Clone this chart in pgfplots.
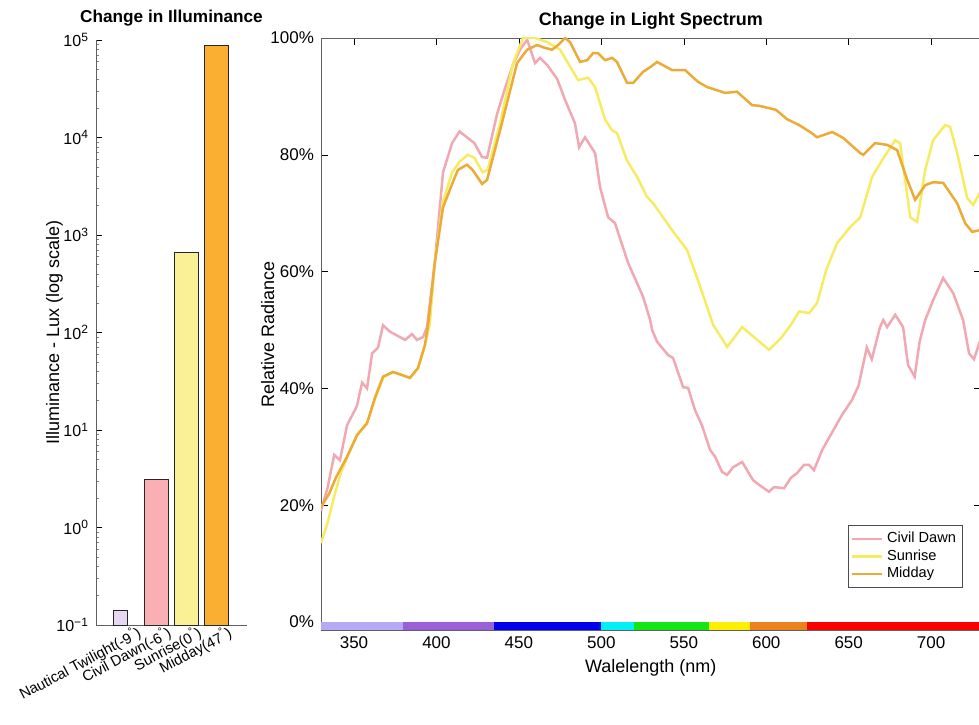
\documentclass[border=0pt]{standalone}
\usepackage{pgfplots}
\pgfplotsset{compat=1.18}
\usepackage{fontspec}
\setmainfont{Liberation Sans}

\definecolor{cLav}{RGB}{181,170,245}
\definecolor{cPur}{RGB}{155,95,215}
\definecolor{cBlu}{RGB}{0,0,235}
\definecolor{cCya}{RGB}{0,240,245}
\definecolor{cGre}{RGB}{20,230,20}
\definecolor{cYel}{RGB}{250,240,0}
\definecolor{cOra}{RGB}{235,130,30}
\definecolor{cRed}{RGB}{250,0,0}
\definecolor{lCivil}{RGB}{240,168,178}
\definecolor{lSun}{RGB}{246,236,100}
\definecolor{lMid}{RGB}{236,170,55}
\definecolor{bNaut}{RGB}{230,215,242}
\definecolor{bCivil}{RGB}{250,175,180}
\definecolor{bSun}{RGB}{250,240,150}
\definecolor{bMid}{RGB}{250,175,50}

\begin{document}
\begin{tikzpicture}
\useasboundingbox (0pt,0pt) rectangle (489.5pt,362pt);

% ---------------- Left: illuminance bars ----------------
\begin{axis}[
  at={(48pt,49.5pt)}, anchor=south west, scale only axis,
  width=75.5pt, height=292.5pt,
  ymode=log, log origin=infty,
  ymin=0.1, ymax=1e5, xmin=0, xmax=5,
  axis x line*=bottom, axis y line*=left,
  axis line style={gray!75!black},
  xtick={1,2,3,4},
  xticklabels={Nautical Twilight(-9\textsuperscript{°}),Civil Dawn(-6\textsuperscript{°}),Sunrise(0\textsuperscript{°}),Midday(47\textsuperscript{°})},
  x tick label style={rotate=28, anchor=north east, font=\fontsize{7.4}{8}\selectfont, inner sep=0pt, xshift=4.5pt, yshift=-2pt},
  x tick style={draw=none},
  ytick={0.1,1,10,100,1000,10000,100000},
  yticklabels={10\textsuperscript{−1},10\textsuperscript{0},10\textsuperscript{1},10\textsuperscript{2},10\textsuperscript{3},10\textsuperscript{4},10\textsuperscript{5}},
  minor ytick={0.2,0.3,0.4,0.5,0.6,0.7,0.8,0.9,2,3,4,5,6,7,8,9,20,30,40,50,60,70,80,90,200,300,400,500,600,700,800,900,2000,3000,4000,5000,6000,7000,8000,9000,20000,30000,40000,50000,60000,70000,80000,90000},
  y tick label style={font=\fontsize{8}{9}\selectfont},
  tick align=inside,
  major tick length=3pt, minor tick length=1.5pt,
  major tick style={black}, minor tick style={gray},
  ylabel={Illuminance - Lux (log scale)},
  ylabel style={font=\fontsize{9}{10}\selectfont, at={(axis description cs:-0.275,0.5)}, anchor=center, rotate=0},
  title={Change in Illuminance},
  title style={font=\bfseries\fontsize{8.6}{10}\selectfont, at={(axis description cs:0.5,1)}, anchor=south, yshift=-2.5pt},
]
\addplot[ybar, bar width=0.49, bar shift=0pt, fill=bNaut, draw=gray!30!black] coordinates {(0.81,0.14)};
\addplot[ybar, bar width=0.8, bar shift=0pt, fill=bCivil, draw=gray!30!black] coordinates {(2,3.1)};
\addplot[ybar, bar width=0.8, bar shift=0pt, fill=bSun, draw=gray!30!black] coordinates {(3,660)};
\addplot[ybar, bar width=0.8, bar shift=0pt, fill=bMid, draw=gray!30!black] coordinates {(4,89000)};
\end{axis}

% ---------------- Right: spectrum ----------------
\begin{axis}[
  at={(160.5pt,47pt)}, anchor=south west, scale only axis,
  width=329.8pt, height=296pt,
  xmin=330, xmax=730, ymin=-1.37, ymax=100,
  xtick={350,400,...,700}, ytick={0,20,...,100},
  yticklabel={\pgfmathprintnumber{\tick}\%},
  tick label style={font=\fontsize{8.5}{9}\selectfont},
  /pgf/number format/assume math mode=true,
  tick align=inside, major tick length=3.5pt,
  axis line style={gray!75!black}, major tick style={black},
  xlabel={Walelength (nm)},
  xlabel style={font=\fontsize{9}{10}\selectfont, at={(axis description cs:0.5,-0.064)}, anchor=center},
  ylabel={Relative Radiance},
  ylabel style={font=\fontsize{9}{10}\selectfont, at={(axis description cs:-0.081,0.5)}, anchor=center},
  title={Change in Light Spectrum},
  title style={font=\bfseries\fontsize{9}{10}\selectfont, at={(axis description cs:0.5,1)}, anchor=south, yshift=-5pt},
  legend style={at={(axis description cs:0.973,0.177)}, anchor=north east,
    font=\fontsize{7.3}{8}\selectfont, draw=gray!60!black, inner sep=1.2pt, row sep=-2pt},
  legend cell align=left,
  legend image code/.code={\draw[#1] (0pt,0pt) -- (15pt,0pt);},
]
% colour bar of the visible spectrum
\addplot[fill=cLav, draw=none, forget plot] coordinates {(330,-1.37) (380,-1.37) (380,0) (330,0)} -- cycle;
\addplot[fill=cPur, draw=none, forget plot] coordinates {(380,-1.37) (435,-1.37) (435,0) (380,0)} -- cycle;
\addplot[fill=cBlu, draw=none, forget plot] coordinates {(435,-1.37) (500,-1.37) (500,0) (435,0)} -- cycle;
\addplot[fill=cCya, draw=none, forget plot] coordinates {(500,-1.37) (520,-1.37) (520,0) (500,0)} -- cycle;
\addplot[fill=cGre, draw=none, forget plot] coordinates {(520,-1.37) (565,-1.37) (565,0) (520,0)} -- cycle;
\addplot[fill=cYel, draw=none, forget plot] coordinates {(565,-1.37) (590,-1.37) (590,0) (565,0)} -- cycle;
\addplot[fill=cOra, draw=none, forget plot] coordinates {(590,-1.37) (625,-1.37) (625,0) (590,0)} -- cycle;
\addplot[fill=cRed, draw=none, forget plot] coordinates {(625,-1.37) (730,-1.37) (730,0) (625,0)} -- cycle;

% Civil Dawn
\addplot[color=lCivil, line width=1.25pt] table {
330 19
334 23
338 28.6
341.5 27.7
345.8 33.7
351.8 37
354.9 41
357.9 40
361 46
364.6 47
367.6 50.8
371.9 49.7
381 48.3
385.2 49.3
388.2 48.3
391.9 48.8
394.3 50.5
399 61.5
404 77
409.5 82
414 84
418.5 83
423 82
427.7 79.6
430.7 79.5
436.8 87
441.6 91.4
446.5 95.5
450.7 98
455 99.7
459.8 95.7
462.8 96.6
467.1 95.4
473.2 93
478 89.4
484 85.4
486.5 81.3
490.1 83
496.2 80.3
499.2 74.5
504.1 69.3
508.3 68.3
516.2 61.5
521.7 58
525.3 55.7
529.6 51.7
530.8 50
533.8 48
540.5 45.7
543.5 45.2
549.6 40.2
552.6 40.1
556.8 36.3
561 33.7
565.9 29.5
569 28.3
573.2 25.7
576.3 25.2
579.9 26.5
585.4 27.4
592 24.3
595.6 23.5
601.7 22.3
604.7 23.1
610.8 22.9
615 24.7
618.7 25.5
622.9 26.9
626 26.9
628.9 26
634 29.5
640 32.5
646 35.5
652 38
656 40.5
661 47
664 45
669 50.5
671 51.7
673.3 50.5
678.2 52.6
683 50.5
686 44
690 42
693 48
696.4 51.7
701.2 55.1
707.3 58.9
713.4 56.3
719.4 51.7
723 46
726 45
729.5 48
};
\addlegendentry{Civil Dawn}

% Sunrise
\addplot[color=lSun, line width=1.25pt] table {
330 13.5
334 17
338 21.5
342 25.5
346.5 28.6
352 32
358 34.2
363 38.4
368 42
374 42.8
379 42.3
384 41.8
389 43.5
393 47.4
396 51
399 61.5
404 72
409.5 77
414 78.8
419 80
423 79.5
428 77
431 77.4
438.6 85.4
446.5 95.7
452.5 100
459.8 100
467.1 99.3
475 98
479.8 95.7
485.9 92.8
492 93.2
496.2 91.6
502.3 86
506.5 84.2
509.5 83.7
515.6 79
521.7 76.2
527.7 72.8
531.4 71.7
542.9 67.1
552 63.7
558 59
567.8 50.9
576.3 47.1
585.4 50.5
593.3 48.6
601.7 46.6
608.9 48.6
615 50.9
620 53.2
626 52.9
630.8 54.6
636.4 60.3
643 64.9
650.9 67.6
657 69.3
664.2 76.2
670.3 79.1
678.2 82.5
681.2 82
687.3 69.3
691.5 68.5
696.4 77.4
701.2 82.5
708.5 85.1
711.5 84.8
715.8 80.3
721.9 72.6
725.5 71.4
729.5 73.5
};
\addlegendentry{Sunrise}

% Midday
\addplot[color=lMid, line width=1.25pt] table {
330 19.7
335 22
339 24.7
345.8 28.3
351.8 32
357.9 34
362.7 38.4
367.6 42
373.6 42.8
379 42.3
383.9 41.8
388.8 43.5
393 47.4
395 51
399 61.5
404 71
409.5 75
413 77.4
418.5 78.3
422 77.4
427.7 75
430.7 75.7
438.6 84.2
448.9 95.7
455 98
461 98.8
465.9 98.3
470.1 98
473.8 98.8
478 100
481 99.3
487.1 95.9
491.4 96.2
495 97.4
498 97.4
502.3 96.2
506.5 96.6
509.5 95.9
515.6 92.3
519.3 92.3
525.3 94.2
529.6 95
533.8 95.9
542.9 94.5
550.8 94.5
558.6 92.5
564.1 91.6
575.1 90.6
582.3 90.8
591.4 88.5
595.6 88.4
605.9 87.7
612.6 86.1
619.9 85.1
627.7 83.7
630.8 83
640 83.9
646.6 82.9
657 80.3
658.8 80
666 82
673.3 81.7
679.4 80.8
685.5 75.7
690.3 72.3
696.4 74.8
701.2 75.3
707.3 75.2
715.8 71.7
720.6 68.3
724.9 66.8
729.5 67.1
};
\addlegendentry{Midday}
\end{axis}
\end{tikzpicture}
\end{document}
